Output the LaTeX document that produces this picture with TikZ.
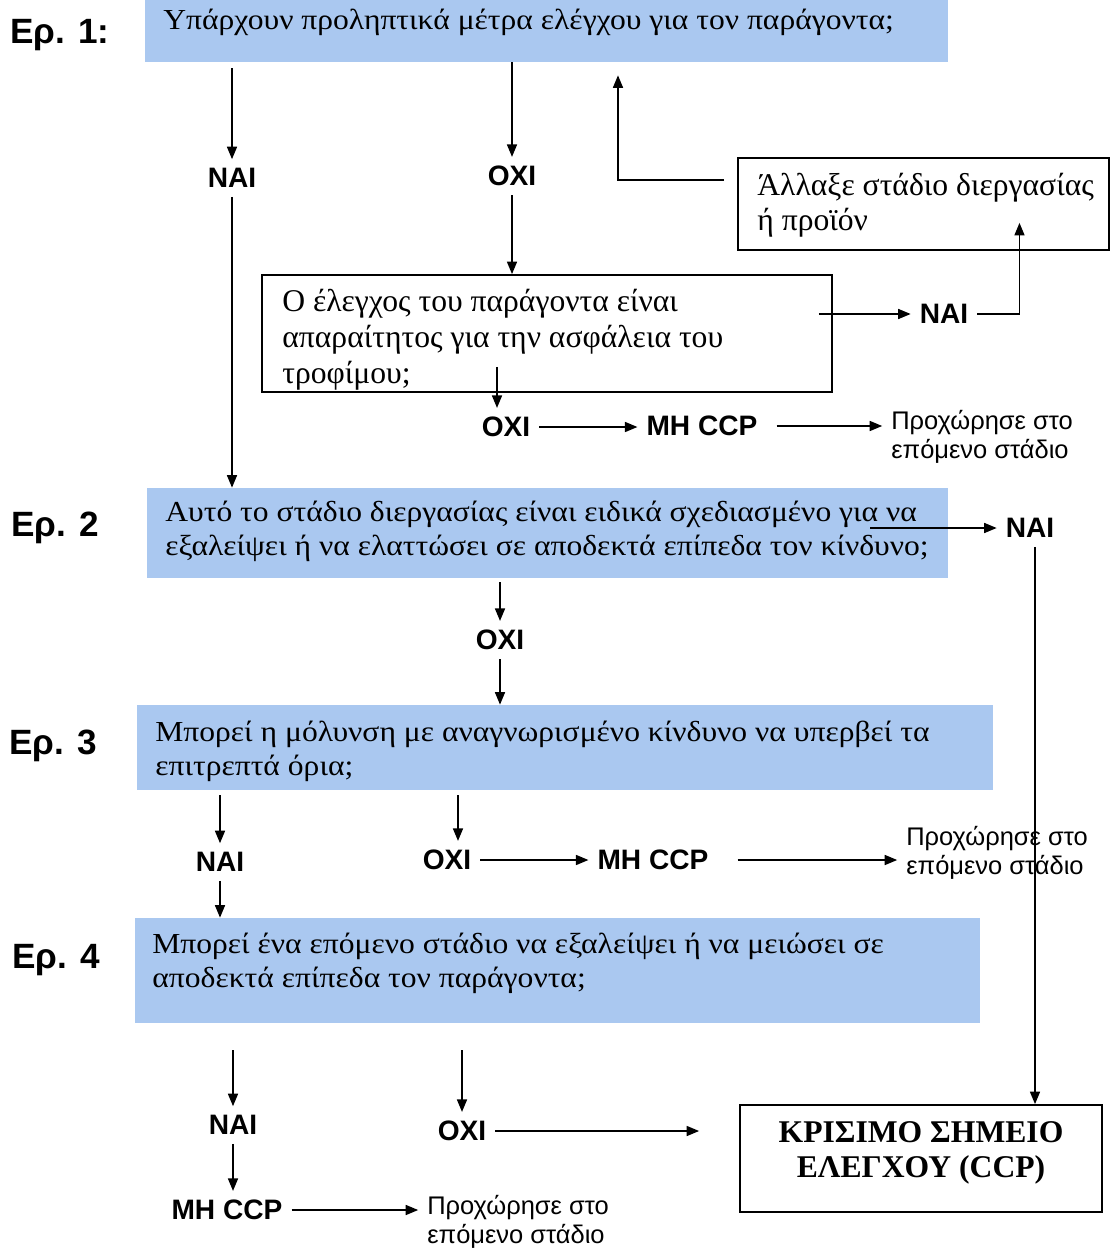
\documentclass[tikz,border=0pt]{standalone}
\usepackage{fontspec}
\setmainfont{Liberation Serif}
\setsansfont{Liberation Sans}
\newfontfamily\widefont[FakeStretch=1.09]{Liberation Serif}
\usetikzlibrary{arrows.meta,fit}

\definecolor{qblue}{RGB}{170,200,240}

\tikzset{
  qbox/.style={fill=qblue, inner sep=0pt},
  wbox/.style={draw, line width=1pt, inner sep=0pt},
  qtext/.style={anchor=west, align=left, inner sep=0pt, font=\widefont\fontsize{16.5}{19.5}\selectfont},
  ans/.style={inner sep=5pt, font=\sffamily\bfseries\fontsize{16}{19}\selectfont},
  steplab/.style={font=\sffamily\bfseries\fontsize{20}{24}\selectfont},
  nexttxt/.style={align=left, inner sep=5pt, font=\sffamily\fontsize{14.5}{16.5}\selectfont},
  arr/.style={line width=0.9pt, -{Triangle[length=0.25cm,width=0.2cm]}}
}

\begin{document}
\begin{tikzpicture}[x=0.02cm,y=-0.02cm]
        \useasboundingbox (0,0) rectangle (1111,1250);

        % step labels
        \node[steplab] (ep1) at (60,35) {Ερ. 1:};
        \node[steplab] (ep2) at (55,528) {Ερ. 2};
        \node[steplab] (ep3) at (53,746) {Ερ. 3};
        \node[steplab] (ep4) at (56,960) {Ερ. 4};

        % question boxes
        \node[qbox, fit={(145,0) (948,62)}] (q1) {};
        \node[qtext] (q1t) at (163,22) {Υπάρχουν προληπτικά μέτρα ελέγχου για τον παράγοντα;};
        \node[qbox, fit={(147,488) (948,578)}] (q2) {};
        \node[qtext] (q2t) at (165,531) {Αυτό το στάδιο διεργασίας είναι ειδικά σχεδιασμένο για να\\εξαλείψει ή να ελαττώσει σε αποδεκτά επίπεδα τον κίνδυνο;};
        \node[qbox, fit={(137,705) (993,790)}] (q3) {};
        \node[qtext] (q3t) at (155,751) {Μπορεί η μόλυνση με αναγνωρισμένο κίνδυνο να υπερβεί τα\\επιτρεπτά όρια;};
        \node[qbox, fit={(135,918) (980,1023)}] (q4) {};
        \node[qtext] (q4t) at (152,963) {Μπορεί ένα επόμενο στάδιο να εξαλείψει ή να μειώσει σε\\αποδεκτά επίπεδα τον παράγοντα;};

        % white boxes
        \node[wbox, fit={(738,158) (1109,250)}] (chg) {};
        \node[qtext, font=\fontsize{18}{20}\selectfont] (chgt) at (757,205) {Άλλαξε στάδιο διεργασίας\\ή προϊόν};
        \node[wbox, fit={(262,275) (832,392)}] (chk) {};
        \node[qtext, font=\fontsize{18}{20.5}\selectfont] (chkt) at (282,340) {Ο έλεγχος του παράγοντα είναι\\απαραίτητος για την ασφάλεια του\\τροφίμου;};
        \node[wbox, fit={(740,1105) (1102,1212)}] (ccp) {};
        \node[align=center, inner sep=0pt, font=\bfseries\fontsize{18}{20}\selectfont] (ccpt) at (921,1153) {ΚΡΙΣΙΜΟ ΣΗΜΕΙΟ\\ΕΛΕΓΧΟΥ (CCP)};

        % answers
        \node[ans] (nai1) at (232,178) {ΝΑΙ};
        \node[ans] (oxi1) at (512,176) {ΟΧΙ};
        \node[ans] (nai2) at (944,314) {ΝΑΙ};
        \node[ans] (oxi2) at (506,427) {ΟΧΙ};
        \node[ans] (mh1) at (702,426) {ΜΗ CCP};
        \node[nexttxt] (go1) at (982,437) {Προχώρησε στο\\επόμενο στάδιο};
        \node[ans] (nai3) at (1030,528) {ΝΑΙ};
        \node[ans] (oxi3) at (500,640) {ΟΧΙ};
        \node[ans] (nai4) at (220,862) {ΝΑΙ};
        \node[ans] (oxi4) at (447,860) {ΟΧΙ};
        \node[ans] (mh2) at (653,860) {ΜΗ CCP};
        \node[nexttxt] (go2) at (997,853) {Προχώρησε στο\\επόμενο στάδιο};
        \node[ans] (nai5) at (233,1125) {ΝΑΙ};
        \node[ans] (oxi5) at (462,1131) {ΟΧΙ};
        \node[ans] (mh3) at (227,1210) {ΜΗ CCP};
        \node[nexttxt] (go3) at (518,1222) {Προχώρησε στο\\επόμενο στάδιο};

        % step 1
        \draw[arr] ([yshift=-0.12cm]q1.south -| nai1) -- (nai1);
        \draw[arr] (q1.south -| oxi1) -- (oxi1);
        \draw[arr] (oxi1) -- (chk.north -| oxi1);
        \draw[arr] ([xshift=-0.26cm,yshift=0.48cm]chg.west) -| ([xshift=1.43cm,yshift=-0.26cm]q1.south);
        \draw[arr] ([xshift=-0.28cm]chk.east |- nai2) -- (nai2);
        \draw[arr] (nai2) -| ([xshift=1.92cm,yshift=0.56cm]chg.south);
        \draw[arr] ([xshift=-0.18cm,yshift=0.52cm]chk.south -| oxi2) -- ([xshift=-0.18cm]oxi2.north);
        \draw[arr] (oxi2) -- (oxi2 -| mh1.west);
        \draw[arr] ([xshift=0.2cm]mh1.east) -- (mh1 -| go1.west);

        % step 2
        \draw[arr] (nai1) -- (nai1 |- q2.north);
        \draw[arr] ([xshift=-1.56cm]q2.east |- nai3) -- (nai3);
        \draw[arr] ([xshift=0.1cm]nai3.south) -- ([xshift=0.1cm]nai3.south |- ccp.north);
        \draw[arr] ([yshift=-0.08cm]q2.south -| oxi3) -- (oxi3);
        \draw[arr] (oxi3) -- (q3.north -| oxi3);

        % step 3
        \draw[arr] ([yshift=-0.1cm]q3.south -| nai4) -- (nai4);
        \draw[arr] ([xshift=0.22cm,yshift=-0.1cm]q3.south -| oxi4) -- ([xshift=0.22cm]oxi4.north);
        \draw[arr] (oxi4) -- (mh2);
        \draw[arr] ([xshift=0.4cm]mh2.east) -- (mh2 -| go2.west);
        \draw[arr] (nai4) -- (q4.north -| nai4);

        % step 4
        \draw[arr] ([yshift=-0.54cm]q4.south -| nai5) -- (nai5);
        \draw[arr] ([yshift=-0.54cm]q4.south -| oxi5) -- (oxi5);
        \draw[arr] (oxi5) -- ([xshift=-0.8cm]ccp.west |- oxi5);
        \draw[arr] (nai5) -- (nai5 |- mh3.north);
        \draw[arr] (mh3) -- (mh3 -| go3.west);
    \end{tikzpicture}
\end{document}
